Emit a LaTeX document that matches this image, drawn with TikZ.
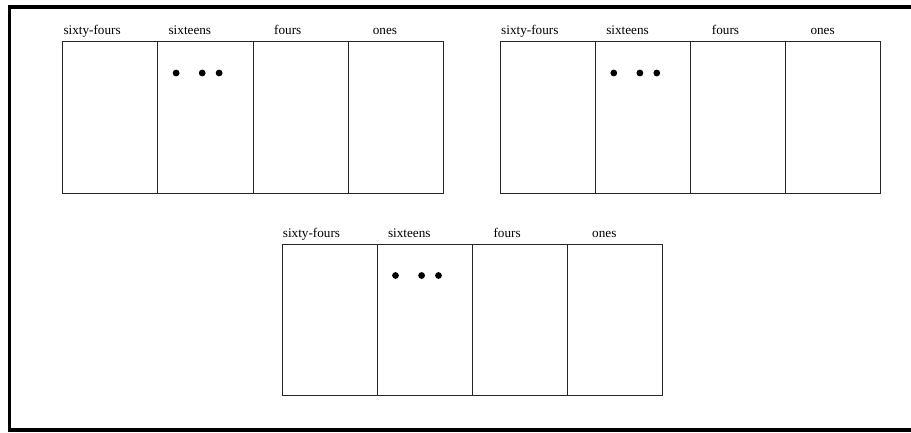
\documentclass[tikz,border=0pt]{standalone}
\usepackage{fontspec}
\setmainfont{Liberation Serif}
\begin{document}
\begin{tikzpicture}[x=1pt,y=-1pt,
  cell/.style={draw=black!85, line width=0.8pt, minimum width=95.1pt, minimum height=151.5pt, inner sep=0pt, anchor=north west},
  lbl/.style={anchor=base west, inner sep=0pt, font=\fontsize{13.2pt}{14pt}\selectfont},
  bead/.style={circle, fill=black, inner sep=0pt, minimum size=6.8pt},
  frameline/.style={line width=3.5pt}]
\useasboundingbox (0,0) rectangle (911,432);
% outer frame (open to the right)
\coordinate (ftr) at (911,7);
\coordinate (ftl) at (9.5,7);
\coordinate (fbl) at (9.5,430);
\coordinate (fbr) at (911,430);
\draw[frameline] (ftr) -- (ftl) -- (fbl) -- (fbr);
\foreach \p/\x/\y in {1/62.3/41, 2/500/41, 3/281.7/243.5}{
  \foreach \c/\t/\o in {1/sixty-fours/1, 2/sixteens/11, 3/fours/21.5, 4/ones/25}{
    \node[cell] (p\p c\c) at ({\x+(\c-1)*95.1},\y) {};
    \node[lbl] (p\p l\c) at ({\x+(\c-1)*95.1+\o},{\y-6.5}) {\t};
  }
  \node[bead] (p\p b1) at ({\x+95.1+18.7},{\y+32}) {};
  \node[bead] (p\p b2) at ({\x+95.1+44.8},{\y+32}) {};
  \node[bead] (p\p b3) at ({\x+95.1+61.7},{\y+32}) {};
}
\end{tikzpicture}
\end{document}
